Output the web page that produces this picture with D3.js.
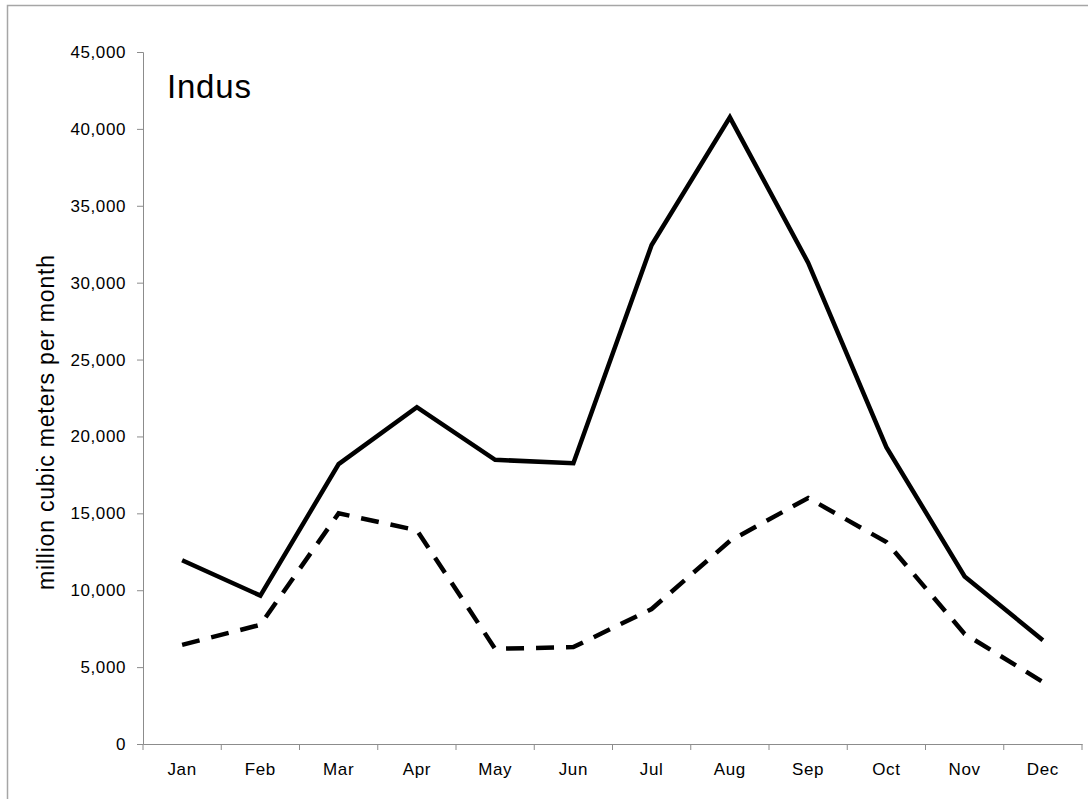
<!DOCTYPE html>
<html><head><meta charset="utf-8">
<script src="https://cdn.jsdelivr.net/npm/d3@7"></script>
<style>body{margin:0;background:#fff}svg{display:block}text{font-family:"Liberation Sans",Arial,sans-serif}</style>
</head><body><svg id="c" width="1088" height="799"></svg>
<script>
const months = ["Jan","Feb","Mar","Apr","May","Jun","Jul","Aug","Sep","Oct","Nov","Dec"];
const solidValues = [11950, 9650, 18200, 21900, 18480, 18260, 32450, 40750, 31300, 19300, 10900, 6750];
const dashedValues = [6450, 7750, 15000, 13900, 6190, 6300, 8780, 13200, 16000, 13130, 7160, 4030];
const yTicks = [0,5000,10000,15000,20000,25000,30000,35000,40000,45000];
const title = "Indus";
const yLabel = "million cubic meters per month";

const svg = d3.select("#c");
svg.append("rect").attr("x",7.5).attr("y",5.5).attr("width",1100).attr("height",820)
  .attr("fill","none").attr("stroke","#a6a6a6").attr("stroke-width",1.5);

const mLeft=143, mRight=1082, mTop=52, mBottom=744;
const x = d3.scaleBand().domain(months).range([mLeft,mRight]);
const y = d3.scaleLinear().domain([0,45000]).range([mBottom,mTop]);
const fmt = d3.format(",");

const yAxis = svg.append("g").attr("transform",`translate(${mLeft},0)`)
  .call(d3.axisLeft(y).tickValues(yTicks).tickFormat(fmt).tickSize(6).tickPadding(11));
const xAxis = svg.append("g").attr("transform",`translate(0,${mBottom})`)
  .call(d3.axisBottom(x).tickSize(0).tickPadding(19));
xAxis.selectAll(".bt").data(months.concat(["end"])).enter().append("line")
  .attr("class","bt")
  .attr("x1",(d,i)=> i<12 ? x(d) : x(months[11])+x.bandwidth())
  .attr("x2",(d,i)=> i<12 ? x(d) : x(months[11])+x.bandwidth())
  .attr("y1",0).attr("y2",6).attr("stroke","#8c8c8c");
[yAxis,xAxis].forEach(g=>{
  g.select(".domain").attr("stroke","#8c8c8c");
  g.selectAll(".tick line").attr("stroke","#8c8c8c");
  g.selectAll("text").attr("font-size",17).attr("fill","#000")
    .attr("font-family","'Liberation Sans',Arial,sans-serif").attr("letter-spacing","0.6px");
});

const line = d3.line().x((d,i)=>x(months[i])+x.bandwidth()/2).y(d=>y(d));
svg.append("path").datum(solidValues).attr("d",line).attr("fill","none")
  .attr("stroke","#000").attr("stroke-width",4.5).attr("stroke-linejoin","miter");
svg.append("path").datum(dashedValues).attr("d",line).attr("fill","none")
  .attr("stroke","#000").attr("stroke-width",4.5).attr("stroke-dasharray","18,12");

svg.append("text").attr("x",167).attr("y",98).attr("font-size",33).attr("letter-spacing","0.8px").text(title);
svg.append("text").attr("transform",`translate(54,${(255+590)/2}) rotate(-90)`)
  .attr("text-anchor","middle").attr("font-size",23)
  .attr("textLength",335).attr("lengthAdjust","spacing").text(yLabel);
</script></body></html>
